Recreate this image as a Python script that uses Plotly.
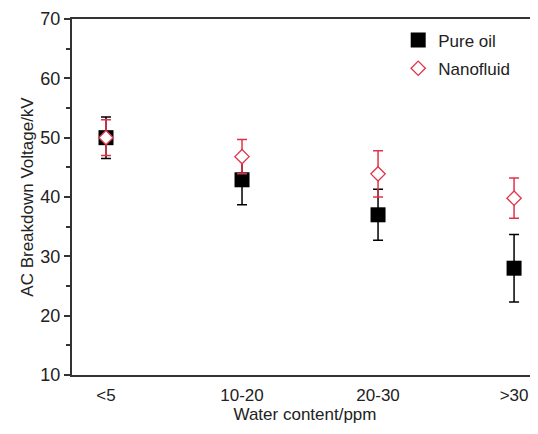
import plotly.graph_objects as go

# data
categories = ['<5', '10-20', '20-30', '>30']
positions = [1, 2, 3, 4]

pure_oil = [50, 42.9, 37, 28]
pure_oil_err = [3.5, 4.2, 4.3, 5.7]

nanofluid = [50, 46.8, 43.9, 39.8]
nanofluid_err = [3.0, 2.9, 3.9, 3.4]

RED = '#e0334a'
FONT = 'Liberation Sans, Arial, sans-serif'

fig = go.Figure()

fig.add_trace(go.Scatter(
    x=positions,
    y=pure_oil,
    mode='markers',
    name='Pure oil',
    legendgroup='a',
    marker=dict(symbol='square', size=15, color='black'),
    error_y=dict(type='data', array=pure_oil_err, color='black',
                 thickness=1.5, width=5)
))

fig.add_trace(go.Scatter(
    x=positions,
    y=nanofluid,
    mode='markers',
    name='Nanofluid',
    legendgroup='b',
    marker=dict(symbol='diamond', size=11, color='white',
                line=dict(color=RED, width=1.3)),
    error_y=dict(type='data', array=nanofluid_err, color=RED,
                 thickness=1.5, width=5)
))

# the page body adds an 8px offset, margins are set to compensate
fig.update_layout(
    width=538,
    height=434,
    margin=dict(l=64, r=8, t=11, b=67),
    paper_bgcolor='white',
    plot_bgcolor='white',
    font=dict(family=FONT, size=17, color='#222'),
    showlegend=True,
    legend=dict(
        x=0.70, y=0.99, xanchor='left', yanchor='top',
        font=dict(size=17),
        bgcolor='rgba(0,0,0,0)',
        traceorder='grouped',
        tracegroupgap=3
    ),
    xaxis=dict(
        range=[0.75, 4.176],
        automargin=False,
        tickmode='array',
        tickvals=positions,
        ticktext=categories,
        showline=True,
        linecolor='#333',
        linewidth=2,
        mirror=True,
        ticks='',
        ticklabelstandoff=4,
        showgrid=False,
        zeroline=False,
        tickfont=dict(size=17),
        title=dict(text='Water content/ppm', font=dict(size=17), standoff=4)
    ),
    yaxis=dict(
        range=[10, 70],
        automargin=False,
        tickvals=[10, 20, 30, 40, 50, 60, 70],
        showline=True,
        linecolor='#333',
        linewidth=2,
        ticks='outside',
        ticklen=6,
        tickwidth=1.5,
        tickcolor='#333',
        minor=dict(tickvals=[15, 25, 35, 45, 55, 65], ticks='outside',
                   ticklen=4, tickwidth=1.5, tickcolor='#333'),
        showgrid=False,
        zeroline=False,
        tickfont=dict(size=18),
        title=dict(text='AC Breakdown Voltage/kV', font=dict(size=17), standoff=2)
    )
)

fig.write_html('out.html')
